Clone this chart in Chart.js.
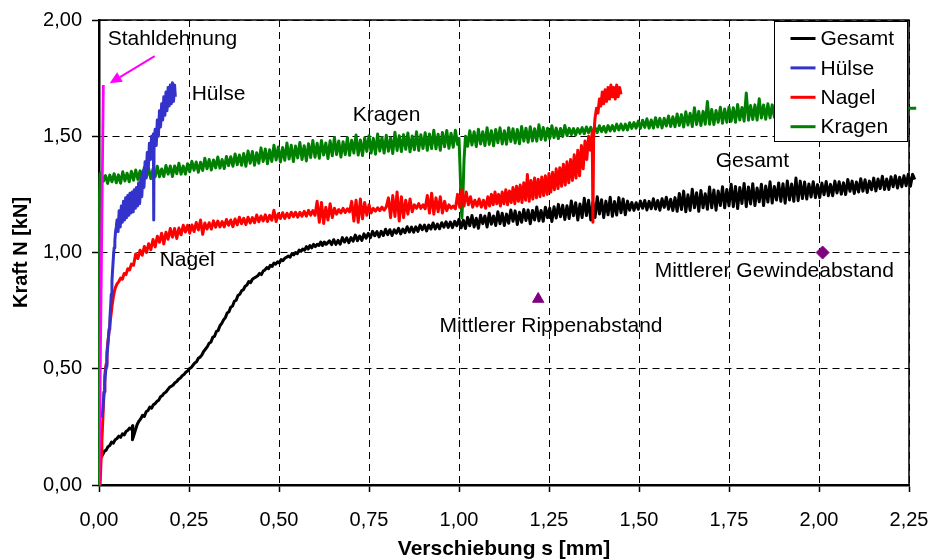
<!DOCTYPE html>
<html>
<head>
<meta charset="utf-8">
<title>Kraft-Verschiebung</title>
<script src="https://cdn.jsdelivr.net/npm/chart.js@4.4.1/dist/chart.umd.min.js"></script>
<style>
  html, body { margin: 0; padding: 0; background: #fff; }
  #wrap { width: 931px; height: 560px; position: relative; }
</style>
</head>
<body>
<div id="wrap"><canvas id="c"></canvas></div>
<script>
// Axis ticks (s in mm, N in kN)
const xTicks = [0, 0.25, 0.5, 0.75, 1.0, 1.25, 1.5, 1.75, 2.0, 2.25];
const yTicks = [0, 0.5, 1.0, 1.5, 2.0];

// Measured curves: [Verschiebung s (mm), Kraft N (kN)]
const gesamt = [
  [0,0.02],[0.002,0.10],[0.006,0.125],[0.01,0.13],[0.015,0.145],[0.02,0.15],[0.025,0.165],[0.03,0.17],[0.035,0.185],[0.04,0.18],
  [0.045,0.195],[0.05,0.20],[0.055,0.21],[0.06,0.205],[0.065,0.22],[0.07,0.215],[0.075,0.23],[0.08,0.235],[0.085,0.245],[0.09,0.24],
  [0.094,0.255],[0.093,0.195],[0.097,0.215],[0.101,0.235],[0.106,0.26],[0.111,0.275],[0.116,0.285],[0.121,0.30],[0.126,0.295],[0.131,0.315],
  [0.136,0.32],[0.141,0.335],[0.146,0.33],[0.151,0.345],[0.156,0.35],[0.161,0.36],[0.166,0.365],[0.171,0.38],[0.176,0.385],[0.181,0.395],
  [0.186,0.40],[0.191,0.41],[0.196,0.42],[0.201,0.425],[0.206,0.43],[0.211,0.44],[0.216,0.445],[0.221,0.455],[0.226,0.46],[0.231,0.47],
  [0.236,0.475],[0.241,0.485],[0.246,0.49],[0.251,0.50],[0.256,0.505],[0.261,0.515],[0.266,0.525],[0.271,0.53],[0.276,0.545],[0.281,0.55],
  [0.286,0.56],[0.291,0.575],[0.296,0.585],[0.301,0.595],[0.306,0.61],[0.311,0.615],[0.316,0.635],[0.321,0.64],[0.326,0.66],[0.331,0.665],
  [0.336,0.685],[0.341,0.695],[0.346,0.71],[0.351,0.72],[0.356,0.74],[0.361,0.745],[0.366,0.765],[0.371,0.77],[0.376,0.79],[0.381,0.795],
  [0.386,0.815],[0.391,0.82],[0.396,0.835],[0.401,0.84],[0.406,0.855],[0.411,0.86],[0.416,0.875],[0.421,0.87],[0.426,0.885],[0.431,0.89],
  [0.436,0.895],[0.441,0.90],[0.446,0.91],[0.451,0.905],[0.456,0.92],[0.461,0.925],[0.466,0.935],[0.471,0.93],[0.476,0.945],[0.481,0.94],
  [0.486,0.955],[0.491,0.95],[0.496,0.96],[0.501,0.955],[0.506,0.97],[0.511,0.965],[0.516,0.975],[0.521,0.98],[0.526,0.985],[0.531,0.98],
  [0.536,0.995],[0.541,0.99],[0.546,1.00],[0.551,0.995],[0.556,1.01],[0.561,1.005],[0.566,1.015],[0.571,1.01],[0.576,1.025],[0.581,1.015],
  [0.586,1.03],[0.591,1.02],[0.596,1.035],[0.601,1.025],[0.606,1.035],[0.611,1.03],[0.616,1.045],[0.621,1.03],[0.626,1.045],[0.631,1.035],
  [0.640,1.050],[0.646,1.034],[0.652,1.055],[0.658,1.035],[0.664,1.052],[0.670,1.036],[0.676,1.064],[0.682,1.045],[0.688,1.063],[0.694,1.042],
  [0.700,1.064],[0.706,1.049],[0.712,1.075],[0.718,1.051],[0.724,1.071],[0.730,1.052],[0.736,1.080],[0.742,1.062],[0.748,1.082],[0.754,1.064],
  [0.760,1.091],[0.766,1.072],[0.772,1.090],[0.778,1.067],[0.784,1.091],[0.790,1.073],[0.796,1.100],[0.802,1.077],[0.808,1.098],[0.814,1.073],
  [0.820,1.098],[0.826,1.083],[0.832,1.104],[0.838,1.080],[0.844,1.101],[0.850,1.085],[0.856,1.111],[0.862,1.088],[0.868,1.109],[0.874,1.087],
  [0.880,1.110],[0.886,1.091],[0.892,1.118],[0.898,1.098],[0.904,1.118],[0.910,1.093],[0.916,1.118],[0.922,1.101],[0.928,1.127],[0.934,1.101],
  [0.940,1.122],[0.946,1.102],[0.952,1.128],[0.958,1.109],[0.964,1.132],[0.970,1.108],[0.976,1.131],[0.982,1.107],[0.988,1.134],[0.994,1.115],
  [1.000,1.143],[1.006,1.106],[1.012,1.139],[1.018,1.103],[1.024,1.151],[1.030,1.115],[1.036,1.159],[1.042,1.110],[1.048,1.147],[1.054,1.104],
  [1.060,1.160],[1.066,1.124],[1.072,1.157],[1.078,1.110],[1.084,1.169],[1.090,1.122],[1.096,1.157],[1.102,1.116],[1.108,1.175],[1.114,1.124],
  [1.120,1.169],[1.126,1.116],[1.132,1.165],[1.138,1.126],[1.144,1.183],[1.150,1.134],[1.156,1.179],[1.162,1.120],[1.168,1.173],[1.174,1.130],
  [1.180,1.185],[1.186,1.138],[1.192,1.183],[1.198,1.124],[1.204,1.181],[1.210,1.140],[1.216,1.196],[1.222,1.136],[1.228,1.181],[1.234,1.134],
  [1.240,1.195],[1.246,1.150],[1.252,1.191],[1.258,1.133],[1.264,1.197],[1.270,1.148],[1.276,1.207],[1.282,1.154],[1.288,1.203],[1.294,1.142],
  [1.300,1.201],[1.306,1.146],[1.312,1.222],[1.318,1.158],[1.324,1.214],[1.330,1.140],[1.336,1.209],[1.342,1.150],[1.348,1.233],[1.354,1.159],
  [1.360,1.225],[1.366,1.140],[1.372,1.216],[1.378,1.151],[1.384,1.240],[1.390,1.166],[1.396,1.227],[1.402,1.150],[1.408,1.221],[1.414,1.162],
  [1.420,1.238],[1.426,1.156],[1.432,1.219],[1.438,1.161],[1.444,1.236],[1.450,1.171],[1.456,1.230],[1.462,1.162],[1.468,1.221],[1.474,1.182],
  [1.480,1.215],[1.486,1.181],[1.492,1.214],[1.498,1.186],[1.504,1.221],[1.510,1.190],[1.516,1.224],[1.522,1.183],[1.528,1.220],[1.534,1.188],
  [1.540,1.231],[1.546,1.187],[1.552,1.224],[1.558,1.182],[1.564,1.231],[1.570,1.194],[1.576,1.238],[1.582,1.186],[1.588,1.229],[1.594,1.181],
  [1.600,1.236],[1.606,1.177],[1.612,1.254],[1.618,1.185],[1.624,1.264],[1.630,1.175],[1.636,1.248],[1.642,1.181],[1.648,1.272],[1.654,1.192],
  [1.660,1.257],[1.666,1.177],[1.672,1.267],[1.678,1.192],[1.684,1.253],[1.690,1.186],[1.696,1.282],[1.702,1.192],[1.708,1.269],[1.714,1.182],
  [1.720,1.265],[1.726,1.202],[1.732,1.283],[1.738,1.192],[1.744,1.271],[1.750,1.201],[1.756,1.294],[1.762,1.197],[1.768,1.284],[1.774,1.189],
  [1.780,1.280],[1.786,1.211],[1.792,1.297],[1.798,1.197],[1.804,1.282],[1.810,1.209],[1.816,1.296],[1.822,1.202],[1.828,1.277],[1.834,1.218],
  [1.840,1.294],[1.846,1.202],[1.852,1.286],[1.858,1.217],[1.864,1.304],[1.870,1.213],[1.876,1.284],[1.882,1.226],[1.888,1.299],[1.894,1.220],
  [1.900,1.296],[1.906,1.212],[1.912,1.308],[1.918,1.226],[1.924,1.295],[1.930,1.220],[1.936,1.320],[1.942,1.223],[1.948,1.307],[1.954,1.232],
  [1.960,1.303],[1.966,1.230],[1.972,1.295],[1.978,1.239],[1.984,1.304],[1.990,1.236],[1.996,1.292],[2.002,1.236],[2.008,1.299],[2.014,1.248],
  [2.020,1.305],[2.026,1.244],[2.032,1.293],[2.038,1.244],[2.044,1.307],[2.050,1.256],[2.056,1.304],[2.062,1.251],[2.068,1.300],[2.074,1.249],
  [2.080,1.314],[2.086,1.263],[2.092,1.307],[2.098,1.254],[2.104,1.303],[2.110,1.260],[2.116,1.317],[2.122,1.264],[2.128,1.313],[2.134,1.258],
  [2.140,1.307],[2.146,1.270],[2.152,1.320],[2.158,1.265],[2.164,1.316],[2.170,1.275],[2.176,1.328],[2.182,1.271],[2.188,1.316],[2.194,1.271],
  [2.200,1.326],[2.206,1.283],[2.212,1.330],[2.218,1.277],[2.224,1.324],[2.230,1.283],[2.236,1.330],[2.242,1.287],[2.248,1.336],[2.254,1.285],
  [2.260,1.336],[2.266,1.314]
];

const huelse = [
  [0.009,0.29],[0.012,0.36],[0.014,0.40],[0.016,0.44],[0.018,0.48],[0.020,0.51],[0.022,0.55],[0.024,0.59],[0.026,0.63],[0.028,0.67],
  [0.030,0.71],[0.032,0.76],[0.034,0.82],[0.036,0.88],[0.038,0.93],[0.040,0.98],[0.042,1.02],[0.044,1.05],[0.046,1.09],[0.048,1.11],
  [0.050,1.14],[0.053,1.09],[0.056,1.18],[0.059,1.11],[0.062,1.20],[0.065,1.13],[0.068,1.22],[0.071,1.14],[0.074,1.235],[0.077,1.15],
  [0.080,1.245],[0.083,1.16],[0.086,1.255],[0.089,1.17],[0.092,1.26],[0.095,1.175],[0.098,1.27],[0.101,1.19],[0.104,1.28],[0.107,1.20],
  [0.110,1.30],[0.113,1.21],[0.116,1.32],[0.119,1.24],[0.122,1.35],[0.125,1.28],[0.128,1.39],[0.131,1.32],[0.134,1.43],[0.137,1.36],
  [0.140,1.47],[0.143,1.40],[0.146,1.50],[0.149,1.43],[0.151,1.51],[0.152,1.14],[0.153,1.47],[0.156,1.53],[0.159,1.46],[0.162,1.57],
  [0.165,1.50],[0.168,1.61],[0.171,1.54],[0.174,1.64],[0.177,1.57],[0.180,1.67],[0.183,1.59],[0.186,1.69],[0.189,1.61],[0.192,1.71],
  [0.195,1.63],[0.198,1.72],[0.201,1.64],[0.204,1.73],[0.207,1.65],[0.210,1.72],[0.212,1.67]
];

const nagel = [
  [0.003,0.00],[0.006,0.12],[0.008,0.19],[0.010,0.26],[0.012,0.33],[0.014,0.40],[0.016,0.47],[0.018,0.50],[0.020,0.52],[0.022,0.57],
  [0.025,0.62],[0.028,0.66],[0.031,0.70],[0.034,0.74],[0.037,0.78],[0.040,0.81],[0.043,0.835],[0.046,0.85],[0.050,0.865],[0.055,0.875],
  [0.060,0.89],[0.065,0.885],[0.070,0.91],[0.075,0.905],[0.080,0.93],[0.085,0.925],[0.090,0.95],[0.096,0.945],
  [0.102,0.994],[0.108,0.974],[0.114,1.010],[0.120,0.988],[0.126,1.026],[0.132,1.000],[0.138,1.038],[0.144,1.012],[0.150,1.056],[0.156,1.024],
  [0.162,1.070],[0.168,1.044],[0.174,1.083],[0.180,1.037],[0.186,1.087],[0.192,1.057],[0.198,1.103],[0.204,1.066],[0.210,1.103],[0.216,1.060],
  [0.222,1.105],[0.228,1.076],[0.234,1.117],[0.240,1.088],[0.246,1.117],[0.252,1.083],[0.258,1.118],[0.264,1.090],[0.270,1.129],[0.276,1.097],
  [0.282,1.140],[0.288,1.078],[0.294,1.127],[0.300,1.101],[0.306,1.128],[0.312,1.101],[0.318,1.136],[0.324,1.109],[0.330,1.135],[0.336,1.110],
  [0.342,1.133],[0.348,1.110],[0.354,1.142],[0.360,1.117],[0.366,1.140],[0.372,1.111],[0.378,1.144],[0.384,1.119],[0.390,1.152],[0.396,1.124],
  [0.402,1.147],[0.408,1.120],[0.414,1.152],[0.420,1.127],[0.426,1.150],[0.432,1.128],[0.438,1.161],[0.444,1.132],[0.450,1.157],[0.456,1.136],
  [0.462,1.162],[0.468,1.133],[0.474,1.160],[0.480,1.139],[0.486,1.182],[0.492,1.133],[0.498,1.167],[0.504,1.146],[0.510,1.171],[0.516,1.146],
  [0.522,1.169],[0.528,1.150],[0.534,1.173],[0.540,1.154],[0.546,1.173],[0.552,1.152],[0.558,1.173],[0.564,1.156],[0.570,1.177],[0.576,1.156],
  [0.582,1.181],[0.588,1.161],[0.594,1.180],[0.600,1.160],[0.606,1.220],[0.612,1.130],[0.618,1.215],[0.624,1.125],[0.630,1.195],[0.636,1.140],
  [0.642,1.210],[0.648,1.150],[0.654,1.190],[0.660,1.165],[0.666,1.185],[0.672,1.170],[0.678,1.190],[0.684,1.172],[0.690,1.188],[0.696,1.175],
  [0.702,1.220],[0.708,1.135],[0.714,1.225],[0.720,1.130],[0.726,1.230],[0.732,1.145],[0.738,1.215],[0.744,1.160],[0.750,1.205],[0.756,1.170],
  [0.762,1.190],[0.768,1.178],[0.774,1.192],[0.780,1.180],[0.786,1.195],[0.792,1.182],[0.798,1.196],[0.804,1.235],[0.810,1.150],[0.816,1.245],
  [0.822,1.155],[0.828,1.260],[0.834,1.135],[0.840,1.240],[0.846,1.150],[0.852,1.225],[0.858,1.165],[0.864,1.230],[0.870,1.175],[0.876,1.205],
  [0.882,1.190],[0.888,1.210],[0.894,1.190],[0.900,1.205],[0.906,1.188],[0.912,1.245],[0.918,1.170],[0.924,1.255],[0.930,1.165],[0.936,1.235],
  [0.942,1.175],[0.948,1.240],[0.954,1.170],[0.960,1.220],[0.966,1.180],[0.972,1.205],[0.978,1.190],[0.984,1.200],[0.990,1.188],[0.996,1.250],
  [1.002,1.195],[1.008,1.270],[1.014,1.200],[1.020,1.260],[1.026,1.205],[1.032,1.240],[1.038,1.195],[1.044,1.225],[1.050,1.200],[1.056,1.230],
  [1.062,1.195],[1.068,1.225],[1.074,1.190],
  [1.080,1.240],[1.085,1.200],[1.090,1.250],[1.095,1.205],[1.100,1.260],[1.105,1.210],[1.110,1.250],[1.115,1.200],[1.120,1.260],[1.125,1.210],
  [1.130,1.270],[1.135,1.205],[1.140,1.265],[1.145,1.215],[1.150,1.280],[1.155,1.210],[1.160,1.285],[1.165,1.220],[1.170,1.290],[1.175,1.215],
  [1.180,1.300],[1.185,1.225],[1.190,1.335],[1.195,1.220],[1.200,1.310],[1.205,1.230],[1.210,1.320],[1.215,1.235],[1.220,1.315],[1.225,1.240],
  [1.230,1.325],[1.235,1.245],[1.240,1.330],[1.245,1.250],[1.250,1.340],[1.255,1.260],[1.260,1.345],[1.265,1.270],[1.270,1.360],[1.275,1.275],
  [1.280,1.365],[1.285,1.285],[1.290,1.380],[1.295,1.290],[1.300,1.390],[1.305,1.300],[1.310,1.400],[1.315,1.310],[1.320,1.420],[1.325,1.320],
  [1.330,1.440],[1.335,1.330],[1.340,1.460],[1.345,1.360],[1.350,1.480],[1.355,1.400],[1.360,1.500],[1.365,1.440],[1.370,1.520],[1.372,1.130],
  [1.374,1.500],[1.378,1.580],[1.382,1.620],[1.386,1.600],[1.390,1.660],[1.394,1.630],[1.398,1.690],[1.402,1.640],[1.406,1.700],[1.410,1.650],
  [1.414,1.710],[1.418,1.660],[1.422,1.720],[1.426,1.670],[1.430,1.710],[1.434,1.660],[1.438,1.720],[1.442,1.670],[1.446,1.710],[1.450,1.680]
];

const kragen = [
  [0,0.00],[0.001,0.70],[0.002,1.25],[0.003,1.34],
  [0.006,1.343],[0.012,1.306],[0.018,1.331],[0.024,1.297],[0.030,1.333],[0.036,1.304],[0.042,1.339],[0.048,1.300],[0.054,1.334],[0.060,1.298],
  [0.066,1.347],[0.072,1.308],[0.078,1.341],[0.084,1.304],[0.090,1.349],[0.096,1.311],[0.102,1.355],[0.108,1.314],[0.114,1.351],[0.120,1.320],
  [0.126,1.367],[0.132,1.328],[0.138,1.361],[0.144,1.318],[0.150,1.359],[0.156,1.326],[0.162,1.371],[0.168,1.326],[0.174,1.359],[0.180,1.327],
  [0.186,1.374],[0.192,1.337],[0.198,1.372],[0.204,1.327],[0.210,1.372],[0.216,1.339],[0.222,1.384],[0.228,1.337],[0.234,1.372],[0.240,1.337],
  [0.246,1.382],[0.252,1.347],[0.258,1.392],[0.264,1.354],[0.270,1.389],[0.276,1.345],[0.282,1.388],[0.288,1.353],[0.294,1.405],[0.300,1.360],
  [0.306,1.400],[0.312,1.355],[0.318,1.398],[0.324,1.364],[0.330,1.411],[0.336,1.363],[0.342,1.400],[0.348,1.361],[0.354,1.413],[0.360,1.374],
  [0.366,1.412],[0.372,1.371],[0.378,1.424],[0.384,1.378],[0.390,1.419],[0.396,1.375],[0.402,1.426],[0.408,1.371],[0.414,1.437],[0.420,1.384],
  [0.426,1.434],[0.432,1.375],[0.438,1.429],[0.444,1.384],[0.450,1.450],[0.456,1.391],[0.462,1.445],[0.468,1.382],[0.474,1.442],[0.480,1.391],
  [0.486,1.461],[0.492,1.398],[0.498,1.454],[0.504,1.389],[0.510,1.452],[0.516,1.397],[0.522,1.471],[0.528,1.402],[0.534,1.461],[0.540,1.391],
  [0.546,1.458],[0.552,1.407],[0.558,1.473],[0.564,1.400],[0.570,1.459],[0.576,1.394],[0.582,1.468],[0.588,1.409],[0.594,1.482],[0.600,1.410],
  [0.606,1.470],[0.612,1.405],[0.618,1.482],[0.624,1.419],[0.630,1.471],[0.636,1.404],[0.642,1.481],[0.648,1.416],[0.654,1.495],[0.660,1.421],
  [0.666,1.480],[0.672,1.411],[0.678,1.476],[0.684,1.421],[0.690,1.495],[0.696,1.418],[0.702,1.483],[0.708,1.428],[0.714,1.505],[0.720,1.419],
  [0.726,1.484],[0.732,1.417],[0.738,1.494],[0.744,1.435],[0.750,1.502],[0.756,1.428],[0.762,1.491],[0.768,1.423],[0.774,1.510],[0.780,1.436],
  [0.786,1.495],[0.792,1.428],[0.798,1.504],[0.804,1.435],[0.810,1.493],[0.816,1.426],[0.822,1.517],[0.828,1.439],[0.834,1.502],[0.840,1.434],
  [0.846,1.507],[0.852,1.444],[0.858,1.514],[0.864,1.433],[0.870,1.501],[0.876,1.442],[0.882,1.519],[0.888,1.439],[0.894,1.506],[0.900,1.447],
  [0.906,1.515],[0.912,1.440],[0.918,1.510],[0.924,1.447],[0.930,1.526],[0.936,1.446],[0.942,1.509],[0.948,1.440],[0.954,1.516],[0.960,1.455],
  [0.966,1.525],[0.972,1.448],[0.978,1.513],[0.984,1.453],[0.990,1.526],[0.996,1.465],[1.000,1.490],[1.003,1.360],[1.006,1.200],[1.008,1.150],
  [1.011,1.250],[1.014,1.400],[1.018,1.500],[1.024,1.457],[1.030,1.524],[1.036,1.462],[1.042,1.519],[1.048,1.456],[1.054,1.530],[1.060,1.467],
  [1.066,1.519],[1.072,1.460],[1.078,1.537],[1.084,1.465],[1.090,1.524],[1.096,1.459],[1.102,1.529],[1.108,1.472],[1.114,1.536],[1.120,1.467],
  [1.126,1.524],[1.132,1.466],[1.138,1.537],[1.144,1.477],[1.150,1.532],[1.156,1.471],[1.162,1.529],[1.168,1.468],[1.174,1.542],[1.180,1.479],
  [1.186,1.534],[1.192,1.474],[1.198,1.541],[1.204,1.480],[1.210,1.532],[1.216,1.479],[1.222,1.549],[1.228,1.486],[1.234,1.538],[1.240,1.483],
  [1.246,1.534],[1.252,1.490],[1.258,1.545],[1.264,1.494],[1.270,1.535],[1.276,1.490],[1.282,1.533],[1.288,1.499],[1.294,1.546],[1.300,1.503],
  [1.306,1.534],[1.312,1.507],[1.318,1.533],[1.324,1.505],[1.330,1.533],[1.336,1.512],[1.342,1.537],[1.348,1.511],[1.354,1.540],[1.360,1.515],
  [1.366,1.538],[1.372,1.513],[1.378,1.537],[1.384,1.516],[1.390,1.545],[1.396,1.520],[1.402,1.542],[1.408,1.517],[1.414,1.546],[1.420,1.523],
  [1.426,1.546],[1.432,1.523],[1.438,1.552],[1.444,1.527],[1.450,1.552],[1.456,1.527],[1.462,1.552],[1.468,1.527],[1.474,1.558],[1.480,1.534],
  [1.486,1.559],[1.492,1.535],[1.498,1.565],[1.504,1.534],[1.510,1.569],[1.516,1.538],[1.522,1.575],[1.528,1.535],[1.534,1.570],[1.540,1.535],
  [1.546,1.580],[1.552,1.540],[1.558,1.577],[1.564,1.536],[1.570,1.577],[1.576,1.544],[1.582,1.587],[1.588,1.542],[1.594,1.584],[1.600,1.541],
  [1.606,1.596],[1.612,1.546],[1.618,1.593],[1.624,1.540],[1.630,1.605],[1.636,1.548],[1.642,1.599],[1.648,1.542],[1.654,1.623],[1.660,1.550],
  [1.666,1.607],[1.672,1.546],[1.678,1.607],[1.684,1.552],[1.690,1.649],[1.696,1.552],[1.702,1.615],[1.708,1.550],[1.714,1.611],[1.720,1.560],
  [1.726,1.625],[1.732,1.556],[1.738,1.617],[1.744,1.560],[1.750,1.626],[1.756,1.564],[1.762,1.623],[1.768,1.560],[1.774,1.637],[1.780,1.570],
  [1.786,1.624],[1.792,1.565],[1.798,1.686],[1.804,1.569],[1.810,1.632],[1.816,1.572],[1.822,1.635],[1.828,1.570],[1.834,1.661],[1.840,1.578],
  [1.846,1.634],[1.852,1.573],[1.858,1.640],[1.864,1.579],[1.870,1.635],[1.876,1.582],[1.882,1.635],[1.888,1.586],[1.894,1.638],[1.95,1.600],
  [2.00,1.625],[2.10,1.610],[2.20,1.620],[2.235,1.620],[2.27,1.620]
];

// Elastic steel elongation reference line
const stahldehnung = [[0,0],[0.012,1.72]];

// Mean spacings marked on the chart
const rippenabstand = [[1.22,0.80]];
const gewindeabstand = [[2.01,1.00]];

const FONT = "'Liberation Sans', Arial, Helvetica, sans-serif";
const toPts = arr => arr.map(p => ({ x: p[0], y: p[1] }));
const fmt = v => Number(v).toFixed(2).replace('.', ',');

// Free-text labels placed in data units (s, N)
const notes = [
  { text: 'Stahldehnung', s: 0.024, n: 1.918 },
  { text: 'Hülse', s: 0.2575, n: 1.681 },
  { text: 'Kragen', s: 0.7047, n: 1.590 },
  { text: 'Nagel', s: 0.1686, n: 0.9655 },
  { text: 'Gesamt', s: 1.713, n: 1.392 },
  { text: 'Mittlerer Gewindeabstand', s: 1.5436, n: 0.918 },
  { text: 'Mittlerer Rippenabstand', s: 0.946, n: 0.685 }
];
const arrow = { from: [0.1547, 1.845], to: [0.0297, 1.728] };

const lineDs = (label, data, color, order, extra) => Object.assign({
  label, data: toPts(data), borderColor: color, backgroundColor: color,
  borderWidth: 3, pointRadius: 0, tension: 0, fill: false,
  borderJoinStyle: 'round', order
}, extra || {});

const wideClip = { left: 2, top: 2, right: 9, bottom: 2 };
const datasets = [
  lineDs('Stahldehnung', stahldehnung, '#ff00ff', 0, { borderWidth: 2.8 }),
  { label: 'Rippenabstand', data: toPts(rippenabstand), showLine: false, pointStyle: 'triangle',
    pointRadius: 6.5, backgroundColor: '#800080', borderColor: '#800080', order: 0 },
  { label: 'Gewindeabstand', data: toPts(gewindeabstand), showLine: false, pointStyle: 'rectRot',
    pointRadius: 6.5, backgroundColor: '#800080', borderColor: '#800080', order: 0 },
  lineDs('Hülse', huelse, '#3333cc', 1),
  lineDs('Nagel', nagel, '#ff0000', 2),
  lineDs('Kragen', kragen, '#008000', 3, { clip: wideClip }),
  lineDs('Gesamt', gesamt, '#000000', 4, { clip: wideClip })
];
const legendOrder = ['Gesamt', 'Hülse', 'Nagel', 'Kragen'];

// Solid frame on the top and right of the plot area
const framePlugin = {
  id: 'frame',
  beforeDatasetsDraw(chart) {
    const { ctx, chartArea: a } = chart;
    ctx.save();
    ctx.strokeStyle = '#000';
    ctx.lineWidth = 1.5;
    ctx.beginPath();
    ctx.moveTo(a.left, a.top);
    ctx.lineTo(a.right, a.top);
    ctx.lineTo(a.right, a.bottom);
    ctx.stroke();
    ctx.restore();
  }
};

// Text labels and the arrow pointing at the steel line
const notesPlugin = {
  id: 'notes',
  afterDatasetsDraw(chart) {
    const { ctx, scales: { x, y } } = chart;
    ctx.save();
    ctx.fillStyle = '#000';
    ctx.font = '21px ' + FONT;
    ctx.textAlign = 'left';
    ctx.textBaseline = 'middle';
    notes.forEach(n => ctx.fillText(n.text, x.getPixelForValue(n.s), y.getPixelForValue(n.n)));
    const x1 = x.getPixelForValue(arrow.from[0]), y1 = y.getPixelForValue(arrow.from[1]);
    const x2 = x.getPixelForValue(arrow.to[0]), y2 = y.getPixelForValue(arrow.to[1]);
    const ang = Math.atan2(y2 - y1, x2 - x1);
    const head = 12, half = 5.5;
    const bx = x2 - head * Math.cos(ang), by = y2 - head * Math.sin(ang);
    ctx.strokeStyle = '#ff00ff';
    ctx.fillStyle = '#ff00ff';
    ctx.lineWidth = 2;
    ctx.beginPath();
    ctx.moveTo(x1, y1);
    ctx.lineTo(bx, by);
    ctx.stroke();
    ctx.beginPath();
    ctx.moveTo(x2, y2);
    ctx.lineTo(bx + half * Math.sin(ang), by - half * Math.cos(ang));
    ctx.lineTo(bx - half * Math.sin(ang), by + half * Math.cos(ang));
    ctx.closePath();
    ctx.fill();
    ctx.restore();
  }
};

// Boxed legend inside the upper right corner of the plot
const legendPlugin = {
  id: 'boxLegend',
  afterDatasetsDraw(chart) {
    const { ctx, chartArea: a } = chart;
    const w = 133, h = 120, rowH = 29.4;
    const x0 = Math.round(a.right - w - 2) + 0.5, y0 = Math.round(a.top + 1) + 0.5;
    ctx.save();
    ctx.fillStyle = '#fff';
    ctx.fillRect(x0, y0, w, h);
    ctx.strokeStyle = '#000';
    ctx.lineWidth = 1;
    ctx.strokeRect(x0, y0, w, h);
    ctx.font = '21px ' + FONT;
    ctx.textBaseline = 'middle';
    ctx.textAlign = 'left';
    legendOrder.forEach((name, i) => {
      const ds = chart.data.datasets.find(d => d.label === name);
      const cy = y0 + 17 + i * rowH;
      ctx.strokeStyle = ds.borderColor;
      ctx.lineWidth = 3;
      ctx.beginPath();
      ctx.moveTo(x0 + 16, cy);
      ctx.lineTo(x0 + 41, cy);
      ctx.stroke();
      ctx.fillStyle = '#000';
      ctx.fillText(name, x0 + 46, cy + 1);
    });
    ctx.restore();
  }
};

const axisCommon = {
  type: 'linear',
  grid: { color: '#000', lineWidth: 1, tickLength: 7, tickColor: '#000', tickWidth: 1.5, tickBorderDash: [] },
  border: { display: true, color: '#000', width: 2.5, dash: [7, 5] }
};

new Chart(document.getElementById('c'), {
  type: 'line',
  data: { datasets },
  options: {
    responsive: true,
    maintainAspectRatio: false,
    animation: false,
    events: [],
    layout: { padding: { left: 0, right: 22, top: 20, bottom: 0 } },
    plugins: { legend: { display: false }, tooltip: { enabled: false } },
    scales: {
      x: Object.assign({}, axisCommon, {
        min: 0, max: 2.25,
        afterBuildTicks: s => { s.ticks = xTicks.map(v => ({ value: v })); },
        afterFit: s => { s.height = 75; s.paddingLeft = 0; s.paddingRight = 0; },
        ticks: { color: '#000', font: { family: FONT, size: 20 }, padding: 16, maxRotation: 0, autoSkip: false, callback: v => fmt(v) },
        title: { display: true, text: 'Verschiebung s [mm]', color: '#000',
                 font: { family: FONT, size: 21, weight: 'bold', lineHeight: 1 }, padding: { top: 0, bottom: 0 } }
      }),
      y: Object.assign({}, axisCommon, {
        min: 0, max: 2,
        afterBuildTicks: s => { s.ticks = yTicks.map(v => ({ value: v })); },
        afterFit: s => { s.width = 99; s.paddingTop = 0; s.paddingBottom = 0; },
        ticks: { color: '#000', font: { family: FONT, size: 20 }, padding: 10, autoSkip: false, callback: v => fmt(v) },
        title: { display: true, text: 'Kraft N [kN]', color: '#000',
                 font: { family: FONT, size: 20, weight: 'bold', lineHeight: 1 }, padding: { top: 11, bottom: 0 } }
      })
    }
  },
  plugins: [framePlugin, notesPlugin, legendPlugin]
});
</script>
</body>
</html>
